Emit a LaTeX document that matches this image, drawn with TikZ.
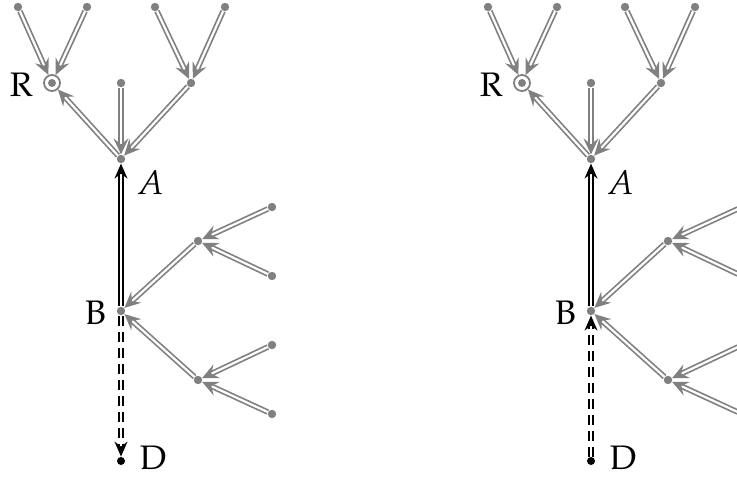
\documentclass[tikz,border=0pt]{standalone}
\usepackage[T1]{fontenc}
\usepackage{mathpazo}
\usetikzlibrary{arrows.meta,positioning}
\tikzset{
  vtx/.style={circle, fill=gray, inner sep=0pt, minimum size=4.2pt},
  ring/.style={circle, draw=gray, line width=0.9pt, inner sep=0pt, minimum size=8pt,
    path picture={\fill[gray] (path picture bounding box.center) circle (2pt);}},
  sink/.style={circle, fill=black, inner sep=0pt, minimum size=4pt},
  lab/.style={inner sep=0pt, font=\fontsize{17}{19}\selectfont},
  gedge/.style={draw=gray, double=white, line width=0.85pt, double distance=1.1pt,
    -{Stealth[length=8pt,width=7.5pt,inset=3pt]}},
  bedge/.style={draw=black, double=white, line width=0.85pt, double distance=1.1pt,
    -{Stealth[length=7.5pt,width=6.5pt,inset=2.5pt]}},
}
\begin{document}
\begin{tikzpicture}[x={(0.5pt,0)}, y={(0,-0.5pt)}]
  \useasboundingbox (0,0) rectangle (737,477);
  \clip (0,0) rectangle (737,477);
  \foreach \p/\sx in {L/0,M/470}{
    \begin{scope}[shift={(\sx,0)}, name prefix=\p-]
      \node[vtx] (t1) at (18,7) {};
      \node[vtx] (t2) at (87,7) {};
      \node[vtx] (t3) at (155,7) {};
      \node[vtx] (t4) at (225,7) {};
      \node[ring] (r) at (52,83) {};
      \node[vtx] (m) at (121,83) {};
      \node[vtx] (q) at (191,83) {};
      \node[vtx] (a) at (121,159) {};
      \node[vtx] (b) at (121,311) {};
      \node[sink] (d) at (121,461) {};
      \node[vtx] (u) at (198,241) {};
      \node[vtx] (w) at (198,380) {};
      \node[vtx] (s1) at (272,207) {};
      \node[vtx] (s2) at (272,276) {};
      \node[vtx] (s3) at (272,345) {};
      \node[vtx] (s4) at (272,414) {};
      \node[lab, left=5pt of r, yshift=-1pt] (rlab) {R};
      \node[lab, below right=4pt and 6pt of a] (alab) {$A$};
      \node[lab, left=5pt of b, yshift=-1pt] (blab) {B};
      \node[lab, right=7pt of d, yshift=1.5pt] (dlab) {D};
      \draw[gedge] (t1) -- (r);
      \draw[gedge] (t2) -- (r);
      \draw[gedge] (t3) -- (q);
      \draw[gedge] (t4) -- (q);
      \draw[gedge] (a) -- (r);
      \draw[gedge] (m) -- (a);
      \draw[gedge] (q) -- (a);
      \draw[gedge] (s1) -- (u);
      \draw[gedge] (s2) -- (u);
      \draw[gedge] (s3) -- (w);
      \draw[gedge] (s4) -- (w);
      \draw[gedge] (u) -- (b);
      \draw[gedge] (w) -- (b);
      \draw[bedge] (b) -- (a);
    \end{scope}
  }
  % the two pictures differ only in the direction of the dashed edge
  \draw[bedge, dash pattern=on 5pt off 3pt] (L-b) -- (L-d);
  \draw[bedge, dash pattern=on 5pt off 3pt] (M-d) -- (M-b);
\end{tikzpicture}
\end{document}
